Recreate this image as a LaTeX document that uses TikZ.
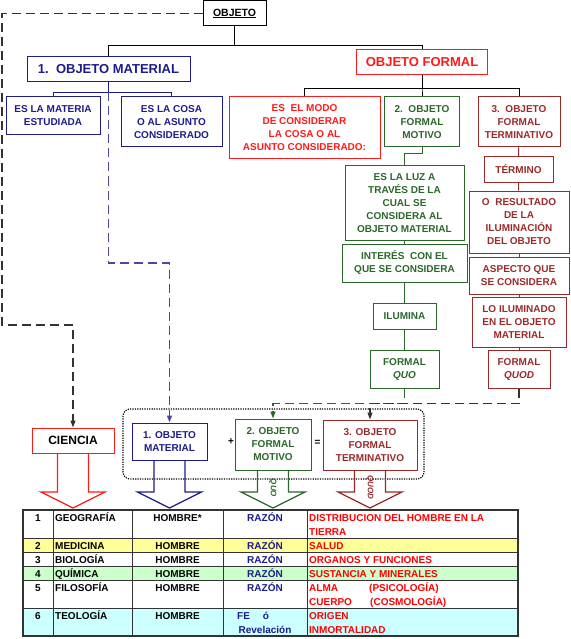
\documentclass[tikz,border=0pt]{standalone}
\usepackage{fontspec}
\setmainfont{Liberation Sans}
\usetikzlibrary{arrows.meta}

\definecolor{azul}{HTML}{1C1C8A}
\definecolor{verde}{HTML}{2B662B}
\definecolor{granate}{HTML}{9A2A2A}
\definecolor{rojo}{HTML}{FF1A1A}
\definecolor{amarillo}{HTML}{FFFF99}
\definecolor{verdeclaro}{HTML}{CCFFCC}
\definecolor{celeste}{HTML}{CCFFFF}
\definecolor{gris}{HTML}{333333}

\newcommand{\cajafont}{\fontsize{10}{13}\selectfont\bfseries}
\newcommand{\titfont}{\fontsize{13}{15}\selectfont\bfseries}
\newcommand{\tablafont}{\fontsize{10}{14}\selectfont\bfseries}

\begin{document}
\begin{tikzpicture}[x=1pt, y=-1pt,
    caja/.style={draw, line width=1pt, align=center, font=\cajafont, inner sep=1pt},
    rama/.style={line width=1pt},
    guion/.style={line width=1.2pt, dash pattern=on 9pt off 5pt, -{Triangle[width=5pt,length=7pt]}},
    celda/.style={font=\tablafont, inner sep=0pt}]
  \useasboundingbox (0,0) rectangle (570,639);
  % Arbol superior
  \node[caja, minimum width=63pt, minimum height=25pt, font=\fontsize{10.5}{13}\selectfont\bfseries] (objeto) at (234.5,13.5) {\underline{OBJETO}};
  \node[caja, azul, minimum width=163pt, minimum height=25pt, font=\titfont] (om) at (108.5,69.5) {1.~~OBJETO MATERIAL};
  \node[caja, azul, minimum width=94pt, minimum height=38pt] (materia) at (53,116) {ES LA MATERIA\\ESTUDIADA};
  \node[caja, azul, minimum width=101pt, minimum height=50pt] (cosa) at (171.5,122) {ES LA COSA\\O AL ASUNTO\\CONSIDERADO};
  \node[caja, rojo, minimum width=131pt, minimum height=25pt, font=\titfont] (of) at (422,62.5) {OBJETO FORMAL};
  \node[caja, rojo, minimum width=151pt, minimum height=62pt] (modo) at (304.5,128) {ES~~EL MODO\\DE CONSIDERAR\\LA COSA O AL\\ASUNTO CONSIDERADO:};
  \node[caja, verde, minimum width=75pt, minimum height=50pt] (ofm) at (422,122) {2.~~OBJETO\\FORMAL\\MOTIVO};
  \node[caja, granate, minimum width=82pt, minimum height=50pt] (oft) at (519,122) {3.~~OBJETO\\FORMAL\\TERMINATIVO};
  \draw[rama] (objeto.south) -- ++(0,19) -| (om.north);
  \draw[rama] (objeto.south) -- ++(0,19) -| (of.north);
  \draw[rama, azul] (om.south) -- ++(0,10) -| (materia.north);
  \draw[rama, azul] (om.south) -- ++(0,10) -| (cosa.north);
  \draw[rama] (of.south) -- ++(0,13) -| (modo.north);
  \draw[rama] (of.south) -- ++(0,13) -| (ofm.north);
  \draw[rama] (of.south) -- ++(0,13) -| (oft.north);
  % Columna del objeto formal motivo
  \node[caja, verde, minimum width=119pt, minimum height=74pt] (luz) at (404.5,203) {ES LA LUZ A\\TRAVÉS DE LA\\CUAL SE\\CONSIDERA AL\\OBJETO MATERIAL};
  \node[caja, verde, minimum width=125pt, minimum height=38pt] (interes) at (404.5,263) {INTERÉS~~CON EL\\QUE SE CONSIDERA};
  \node[caja, verde, minimum width=63pt, minimum height=26pt] (ilumina) at (404.5,316) {ILUMINA};
  \node[caja, verde, minimum width=69pt, minimum height=38pt] (quo) at (404.5,369) {FORMAL\\\textit{QUO}};
  \draw[rama, verde] (ofm.south) -- ++(0,6) -| (luz.north);
  \draw[rama, verde] (luz) -- (interes);
  \draw[rama, verde] (interes) -- (ilumina);
  \draw[rama, verde] (ilumina) -- (quo);
  % Columna del objeto formal terminativo
  \node[caja, granate, minimum width=69pt, minimum height=25pt] (termino) at (518.5,169.5) {TÉRMINO};
  \node[caja, granate, minimum width=100pt, minimum height=62pt] (resultado) at (519,222) {O~~RESULTADO\\DE LA\\ILUMINACIÓN\\DEL OBJETO};
  \node[caja, granate, minimum width=100pt, minimum height=37pt] (aspecto) at (519,275.5) {ASPECTO QUE\\SE CONSIDERA};
  \node[caja, granate, minimum width=94pt, minimum height=50pt] (iluminado) at (519,322) {LO ILUMINADO\\EN EL OBJETO\\MATERIAL};
  \node[caja, granate, minimum width=62pt, minimum height=38pt] (quod) at (519,369) {FORMAL\\\textit{QUOD}};
  \draw[rama, granate] (oft) -- (termino);
  \draw[rama, granate] (termino) -- (resultado);
  \draw[rama, granate] (resultado) -- (aspecto);
  \draw[rama, granate] (aspecto) -- (iluminado);
  \draw[rama, granate] (iluminado) -- (quod);
  % Fila inferior
  \draw[line width=1.2pt, dash pattern=on 1.2pt off 1.2pt, rounded corners=7pt] (123,409) rectangle (424,479);
  \node[caja, rojo, text=black, minimum width=82pt, minimum height=25pt, font=\fontsize{12}{14}\selectfont\bfseries] (ciencia) at (73,440.5) {CIENCIA};
  \node[caja, azul, minimum width=75pt, minimum height=37pt] (om2) at (169.5,441.5) {1. OBJETO\\MATERIAL};
  \node[caja, verde, minimum width=76pt, minimum height=51pt] (ofm2) at (273,444.5) {2. OBJETO\\FORMAL\\MOTIVO};
  \node[caja, granate, minimum width=94pt, minimum height=50pt] (oft2) at (370,445) {3. OBJETO\\FORMAL\\TERMINATIVO};
  \node[font=\cajafont, inner sep=0pt] (mas) at (231,442) {+};
  \node[font=\cajafont, inner sep=0pt] (igual) at (317.5,443) {=};
  % Lineas punteadas
  \draw[guion, gris] (objeto.west) -| (2,325) -| (ciencia.north);
  \draw[guion, azul!80] (om.south) ++(0,10) -- (om.south |- 0,263) -| (om2.north);
  \draw[guion, verde] (quo.south) -- ++(0,15) -| (ofm2.north);
  \draw[guion, gris] (quod.south) -- ++(0,15) -| (oft2.north);
  % Flechas gruesas
  \foreach \nd/\col in {ciencia/rojo, om2/azul, ofm2/verde, oft2/granate}
    \draw[\col, line width=1.3pt, line join=miter]
      ([xshift=-15.5pt]\nd.south) -- ([xshift=-15.5pt]\nd.south |- 0,492)
      -- ([xshift=-32pt]\nd.south |- 0,492) -- (\nd.south |- 0,508)
      -- ([xshift=32pt]\nd.south |- 0,492) -- ([xshift=15.5pt]\nd.south |- 0,492)
      -- ([xshift=15.5pt]\nd.south);
  \node[verde, rotate=-90, font=\fontsize{8}{9}\selectfont\bfseries\itshape, inner sep=0pt] (quolbl) at (273,488) {QUO};
  \node[granate, rotate=-90, font=\fontsize{8}{9}\selectfont\bfseries\itshape, inner sep=0pt] (quodlbl) at (370,487) {QUOD};
  % Tabla
  \fill[amarillo] (23,538) rectangle (518,552);
  \fill[verdeclaro] (23,566) rectangle (518,580);
  \fill[celeste] (23,608) rectangle (518,636);
  \foreach \y in {538,552,566,580,608}
    \draw[gris, line width=0.8pt] (23,\y) -- (518,\y);
  \foreach \x in {53,132,223,307}
    \draw[gris, line width=0.8pt] (\x,510) -- (\x,636);
  \draw[gris, line width=1.5pt] (23,510) rectangle (518,636);
  \foreach \n/\y/\cien/\hom/\raz/\res in {1/521/GEOGRAFÍA/HOMBRE*/RAZÓN/DISTRIBUCION DEL HOMBRE EN LA,
      2/549/MEDICINA/HOMBRE/RAZÓN/SALUD, 3/563/BIOLOGÍA/HOMBRE/RAZÓN/ORGANOS Y FUNCIONES,
      4/577/QUÍMICA/HOMBRE/RAZÓN/SUSTANCIA Y MINERALES, 5/591/FILOSOFÍA/HOMBRE/RAZÓN/ALMA,
      6/619/TEOLOGÍA/HOMBRE//ORIGEN} {
    \node[celda, anchor=base] (num\n) at (38,\y) {\n};
    \node[celda, anchor=base west] (cien\n) at (55,\y) {\cien};
    \node[celda, anchor=base] (hom\n) at (177.5,\y) {\hom};
    \node[celda, anchor=base, azul] (raz\n) at (265,\y) {\raz};
    \node[celda, anchor=base west, red] (res\n) at (309,\y) {\res};
  }
  \node[celda, anchor=base west, red] (tierra) at (309,535) {TIERRA};
  \node[celda, anchor=base west, red] (psico) at (369,591) {(PSICOLOGÍA)};
  \node[celda, anchor=base west, red] (cuerpo) at (309,605) {CUERPO};
  \node[celda, anchor=base west, red] (cosmo) at (370,605) {(COSMOLOGÍA)};
  \node[celda, anchor=base west, azul] (fe) at (237,619) {FE\hspace{1.3em}ó};
  \node[celda, anchor=base, azul] (revel) at (265,633) {Revelación};
  \node[celda, anchor=base west, red] (inmort) at (309,633) {INMORTALIDAD};
\end{tikzpicture}
\end{document}
